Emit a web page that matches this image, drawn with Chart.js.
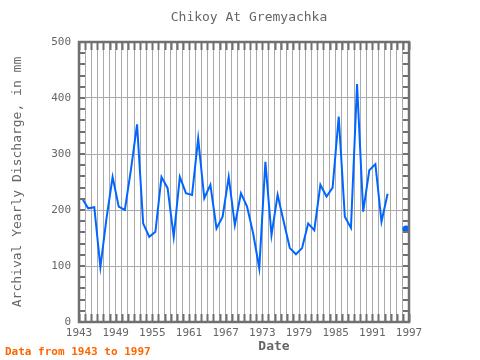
<!DOCTYPE html>
<html>
<head>
<meta charset="utf-8">
<script src="https://cdn.jsdelivr.net/npm/chart.js@4"></script>
<style>
  html, body { margin: 0; padding: 0; background: #fff; }
</style>
</head>
<body>
<canvas id="chart" width="480" height="360"></canvas>
<script>
const years = [1943, 1944, 1945, 1946, 1947, 1948, 1949, 1950, 1951, 1952,
  1953, 1954, 1955, 1956, 1957, 1958, 1959, 1960, 1961, 1962,
  1963, 1964, 1965, 1966, 1967, 1968, 1969, 1970, 1971, 1972,
  1973, 1974, 1975, 1976, 1977, 1978, 1979, 1980, 1981, 1982,
  1983, 1984, 1985, 1986, 1987, 1988, 1989, 1990, 1991, 1992,
  1993, 1994, 1995, 1996];
// yearly discharge in mm (1994 and 1995 missing)
const discharge = [221, 203, 205, 98, 185, 259, 206, 200, 272, 353,
  176, 152, 161, 259, 239, 152, 259, 230, 227, 328,
  221, 245, 167, 188, 259, 173, 230, 206, 158, 96,
  286, 155, 227, 179, 132, 121, 132, 176, 164, 245,
  224, 240, 367, 188, 168, 425, 197, 271, 282, 179,
  229, null, null, 166];
const xLabels = [1943, 1949, 1955, 1961, 1967, 1973, 1979, 1985, 1991, 1997];
const yLabels = [0, 100, 200, 300, 400, 500];

const titleText = 'Chikoy At Gremyachka';
const xTitle = 'Date';
const yTitle = 'Archival Yearly Discharge, in mm';
const footText = 'Data from 1943 to 1997';

const mono = 'DejaVu Sans Mono';
const textGray = '#666666';
const frameGray = '#707070';

// points sit in the middle of each year
const points = years.map((y, i) => ({ x: y + 0.5, y: discharge[i] }));

function isolated(i) {
  if (discharge[i] == null) return false;
  const prev = i > 0 ? discharge[i - 1] : null;
  const next = i < discharge.length - 1 ? discharge[i + 1] : null;
  return prev == null && next == null;
}

// frame, inner tick marks and the free texts
const decor = {
  id: 'decor',
  afterDraw(chart) {
    const { ctx, chartArea: a, scales: { x, y } } = chart;
    ctx.save();
    ctx.strokeStyle = frameGray;
    ctx.lineWidth = 2;
    ctx.beginPath();
    x.ticks.forEach(t => {
      const px = Math.round(x.getPixelForValue(t.value)) + 0.5;
      ctx.moveTo(px, a.top); ctx.lineTo(px, a.top + 8);
      ctx.moveTo(px, a.bottom); ctx.lineTo(px, a.bottom - 8);
    });
    y.ticks.forEach(t => {
      const py = Math.round(y.getPixelForValue(t.value));
      ctx.moveTo(a.left, py); ctx.lineTo(a.left + 6, py);
      ctx.moveTo(a.right, py); ctx.lineTo(a.right - 6, py);
    });
    ctx.stroke();
    ctx.lineWidth = 2.5;
    ctx.strokeRect(a.left, a.top, a.right - a.left, a.bottom - a.top);

    ctx.fillStyle = textGray;
    ctx.textAlign = 'center';
    ctx.textBaseline = 'middle';
    ctx.font = '13px "' + mono + '"';
    ctx.fillText(titleText, 249, 18);
    ctx.font = 'bold 13px "' + mono + '"';
    ctx.fillText(xTitle, 274, 347);

    ctx.fillStyle = '#ff6600';
    ctx.textAlign = 'left';
    ctx.font = 'bold 11px "' + mono + '"';
    ctx.fillText(footText, 5, 352);
    ctx.restore();
  }
};

new Chart(document.getElementById('chart'), {
  type: 'line',
  data: {
    datasets: [{
      data: points,
      borderColor: '#0066ff',
      backgroundColor: '#0066ff',
      borderWidth: 2,
      pointRadius: c => isolated(c.dataIndex) ? 2.5 : 0,
      pointHoverRadius: 0,
      spanGaps: false,
      tension: 0
    }]
  },
  options: {
    responsive: false,
    animation: false,
    events: [],
    layout: { padding: { top: 42, right: 71, bottom: 0, left: 0 } },
    plugins: { legend: { display: false }, tooltip: { enabled: false } },
    scales: {
      x: {
        type: 'linear',
        min: 1943,
        max: 1997,
        afterFit: s => { s.height = 38; },
        border: { display: false },
        grid: { color: '#aaaaaa', lineWidth: 1, drawTicks: false, tickLength: 0 },
        ticks: {
          stepSize: 1,
          autoSkip: false,
          maxRotation: 0,
          padding: 5,
          color: textGray,
          font: { family: mono, size: 11 },
          callback: v => xLabels.includes(v) ? String(v) : ''
        }
      },
      y: {
        min: 0,
        max: 500,
        afterFit: s => { s.width = 79; },
        border: { display: false },
        grid: {
          color: c => yLabels.includes(c.tick.value) ? '#aaaaaa' : 'rgba(0,0,0,0)',
          lineWidth: 1,
          drawTicks: false,
          tickLength: 0
        },
        ticks: {
          stepSize: 20,
          autoSkip: false,
          padding: 8,
          color: textGray,
          font: { family: mono, size: 11 },
          callback: v => yLabels.includes(v) ? String(v) : ''
        },
        title: {
          display: true,
          text: yTitle,
          color: textGray,
          font: { family: mono, size: 13 },
          padding: { top: 10, bottom: 0 }
        }
      }
    }
  },
  plugins: [decor]
});
</script>
</body>
</html>
